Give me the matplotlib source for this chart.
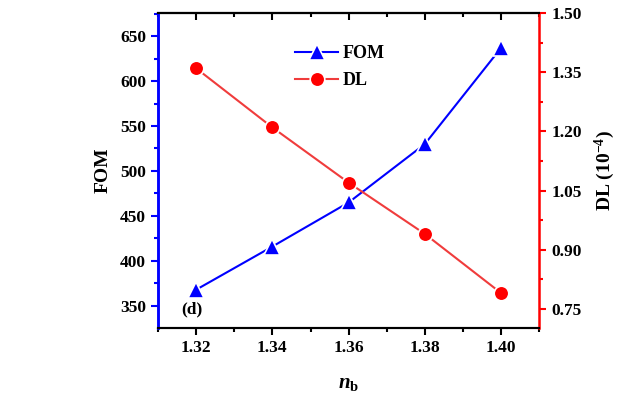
import matplotlib
matplotlib.use("Agg")
import matplotlib.pyplot as plt
from matplotlib.ticker import MultipleLocator

plt.rcParams['font.family'] = ['Liberation Serif', 'DejaVu Serif']
plt.rcParams['mathtext.fontset'] = 'custom'
plt.rcParams['mathtext.rm'] = 'Liberation Serif:bold'
plt.rcParams['mathtext.it'] = 'Liberation Serif:bold:italic'
plt.rcParams['mathtext.bf'] = 'Liberation Serif:bold'

nb = [1.32, 1.34, 1.36, 1.38, 1.40]
fom = [368, 416, 465, 530, 637]
dl = [1.36, 1.21, 1.07, 0.94, 0.79]

fig = plt.figure(figsize=(6.22, 3.95), dpi=100)
ax = fig.add_axes([0.254, 0.170, 0.613, 0.797])
ax2 = ax.twinx()

l1, = ax.plot(nb, fom, color='#0000ff', lw=1.5, marker='^', ms=11,
              markeredgecolor='white', markeredgewidth=1.2, label='FOM')
l2, = ax2.plot(nb, dl, color='#f03c3c', lw=1.5, marker='o', ms=10.5,
               markerfacecolor='#ff0000', markeredgecolor='white',
               markeredgewidth=1.2, label='DL')

ax.set_xlim(1.31, 1.41)
ax.set_ylim(325.6, 675.6)
ax2.set_ylim(0.702, 1.50)

ax.xaxis.set_major_locator(MultipleLocator(0.02))
ax.xaxis.set_minor_locator(MultipleLocator(0.01))
ax.yaxis.set_major_locator(MultipleLocator(50))
ax.yaxis.set_minor_locator(MultipleLocator(25))
ax2.yaxis.set_major_locator(MultipleLocator(0.15))
ax2.yaxis.set_minor_locator(MultipleLocator(0.075))
ax.xaxis.set_major_formatter(plt.FuncFormatter(lambda v, p: f"{v:.2f}"))
ax2.yaxis.set_major_formatter(plt.FuncFormatter(lambda v, p: f"{v:.2f}"))

for s in ['top', 'bottom']:
    ax.spines[s].set_linewidth(1.5)
    ax2.spines[s].set_linewidth(1.5)
ax2.spines['left'].set_color('#0000ff')
ax2.spines['left'].set_linewidth(1.8)
ax2.spines['right'].set_color('#ff0000')
ax2.spines['right'].set_linewidth(1.8)
ax.spines['left'].set_color('#0000ff')
ax.spines['left'].set_linewidth(1.8)
ax.spines['right'].set_visible(False)

ax.tick_params(axis='x', which='both', direction='out', top=False, width=1.5, labelsize=12.5)
ax.tick_params(axis='x', which='major', length=5)
ax.tick_params(axis='x', which='minor', length=3)
ax.tick_params(axis='y', which='both', direction='out', color='#0000ff', width=1.5, labelsize=12.5)
ax.tick_params(axis='y', which='major', length=5)
ax.tick_params(axis='y', which='minor', length=3)
ax2.tick_params(axis='y', which='both', direction='out', color='#ff0000', width=1.5, labelsize=12.5)
ax2.tick_params(axis='y', which='major', length=5)
ax2.tick_params(axis='y', which='minor', length=3)

# top ticks (inward)
sec = ax.secondary_xaxis('top')
sec.xaxis.set_major_locator(MultipleLocator(0.02))
sec.xaxis.set_minor_locator(MultipleLocator(0.01))
sec.tick_params(which='both', direction='in', labeltop=False, width=1.5)
sec.tick_params(which='major', length=5)
sec.tick_params(which='minor', length=3)
sec.spines['top'].set_linewidth(1.5)

for lab in ax.get_xticklabels() + ax.get_yticklabels() + ax2.get_yticklabels():
    lab.set_fontweight('bold')

ax.set_ylabel('FOM', fontsize=14, fontweight='bold', labelpad=6)
ax2.set_ylabel(r'DL (10$^{-4}$)', fontsize=14, fontweight='bold', labelpad=8)
ax.set_xlabel(r'$n_{\mathrm{b}}$', fontsize=15, labelpad=13)

ax.text(1.3188, 346, '(d)', fontsize=12.5, fontweight='bold', ha='center', va='center')

leg = ax.legend(handles=[l1, l2], loc='upper left', bbox_to_anchor=(0.317, 0.95),
                frameon=False, handlelength=2.4, handletextpad=0.25, labelspacing=0.55,
                prop={'weight': 'bold', 'size': 13})

fig.savefig('out.png', dpi=100)
